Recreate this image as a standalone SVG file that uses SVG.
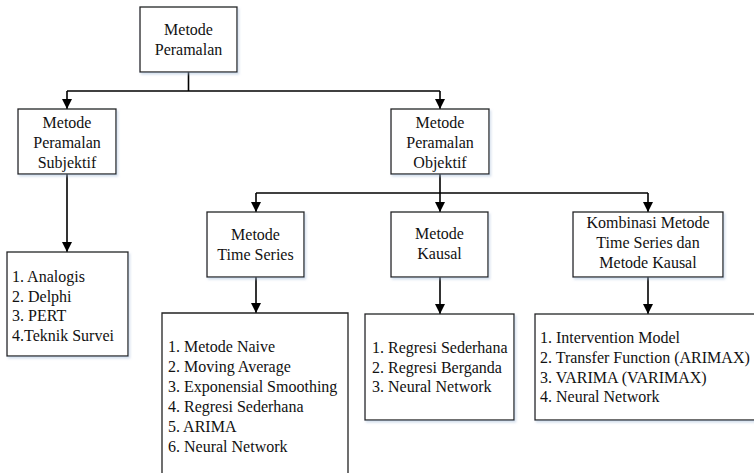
<svg xmlns="http://www.w3.org/2000/svg" width="754" height="473" viewBox="0 0 754 473">
  <defs>
    <marker id="arrow" viewBox="0 0 10 10" refX="10" refY="5" markerWidth="10" markerHeight="10" markerUnits="userSpaceOnUse" orient="auto">
      <path d="M0,0 L10,5 L0,10 Z" fill="#000"/>
    </marker>
    <filter id="shadow" x="-10%" y="-10%" width="130%" height="130%">
      <feDropShadow dx="1.5" dy="2" stdDeviation="1.2" flood-color="#9fb8d6" flood-opacity="0.45"/>
    </filter>
  </defs>
  <style>
    .box { fill: #fff; stroke: #222; stroke-width: 1.3; filter: url(#shadow); }
    .open { fill: #fff; stroke: #222; stroke-width: 1.3; }
    .label { font-family: "Liberation Serif", "Times New Roman", serif; font-size: 16px; fill: #111; }
    .c { text-anchor: middle; }
    .wire { fill: none; stroke: #000; stroke-width: 1.6; }
    .arr { marker-end: url(#arrow); }
  </style>
  <rect width="754" height="473" fill="#fff"/>

  <!-- connectors -->
  <g id="connectors">
    <path class="wire" d="M188.5,72 V91"/>
    <path class="wire" d="M67,91 H440"/>
    <path class="wire arr" d="M67,91 V109"/>
    <path class="wire arr" d="M440,91 V109"/>
    <path class="wire arr" d="M67,174 V252"/>
    <path class="wire" d="M440,174 V193"/>
    <path class="wire" d="M256,193 H648"/>
    <path class="wire arr" d="M256,193 V212"/>
    <path class="wire arr" d="M440,193 V212"/>
    <path class="wire arr" d="M648,193 V212"/>
    <path class="wire arr" d="M256,277 V313"/>
    <path class="wire arr" d="M440,277 V314"/>
    <path class="wire arr" d="M648,277 V314"/>
  </g>

  <!-- root -->
  <g id="metode-peramalan">
    <rect class="box" x="140" y="7" width="97" height="65"/>
    <text class="label c" x="188.5" y="35">Metode</text>
    <text class="label c" x="188.5" y="55">Peramalan</text>
  </g>

  <g id="subjektif">
    <rect class="box" x="18" y="109" width="98" height="65"/>
    <text class="label c" x="67" y="128">Metode</text>
    <text class="label c" x="67" y="148">Peramalan</text>
    <text class="label c" x="67" y="168">Subjektif</text>
  </g>

  <g id="objektif">
    <rect class="box" x="391" y="109" width="98" height="65"/>
    <text class="label c" x="440" y="128">Metode</text>
    <text class="label c" x="440" y="148">Peramalan</text>
    <text class="label c" x="440" y="168">Objektif</text>
  </g>

  <g id="subjektif-list">
    <rect class="box" x="7" y="252" width="121" height="104"/>
    <text class="label" x="12" y="282">1. Analogis</text>
    <text class="label" x="12" y="301.5">2. Delphi</text>
    <text class="label" x="12" y="321">3. PERT</text>
    <text class="label" x="12" y="340.5">4.Teknik Survei</text>
  </g>

  <g id="time-series">
    <rect class="box" x="207" y="212" width="97" height="65"/>
    <text class="label c" x="255.5" y="240">Metode</text>
    <text class="label c" x="255.5" y="260">Time Series</text>
  </g>

  <g id="kausal">
    <rect class="box" x="391" y="212" width="97" height="65"/>
    <text class="label c" x="439.5" y="239">Metode</text>
    <text class="label c" x="439.5" y="259">Kausal</text>
  </g>

  <g id="kombinasi">
    <rect class="box" x="573" y="212" width="150" height="65"/>
    <text class="label c" x="648" y="228">Kombinasi Metode</text>
    <text class="label c" x="648" y="248">Time Series dan</text>
    <text class="label c" x="648" y="268">Metode Kausal</text>
  </g>

  <g id="time-series-list">
    <path class="open" d="M162,480 V313 H348 V480"/>
    <text class="label" x="168" y="352">1. Metode Naive</text>
    <text class="label" x="168" y="372">2. Moving Average</text>
    <text class="label" x="168" y="392">3. Exponensial Smoothing</text>
    <text class="label" x="168" y="412">4. Regresi Sederhana</text>
    <text class="label" x="168" y="432">5. ARIMA</text>
    <text class="label" x="168" y="452">6. Neural Network</text>
  </g>

  <g id="kausal-list">
    <rect class="box" x="365" y="314" width="149" height="106"/>
    <text class="label" x="372" y="353">1. Regresi Sederhana</text>
    <text class="label" x="372" y="372.5">2. Regresi Berganda</text>
    <text class="label" x="372" y="392">3. Neural Network</text>
  </g>

  <g id="kombinasi-list">
    <rect class="box" x="535" y="314" width="224" height="106"/>
    <text class="label" x="540" y="343">1. Intervention Model</text>
    <text class="label" x="540" y="363">2. Transfer Function (ARIMAX)</text>
    <text class="label" x="540" y="383">3. VARIMA (VARIMAX)</text>
    <text class="label" x="540" y="402">4. Neural Network</text>
  </g>
</svg>
